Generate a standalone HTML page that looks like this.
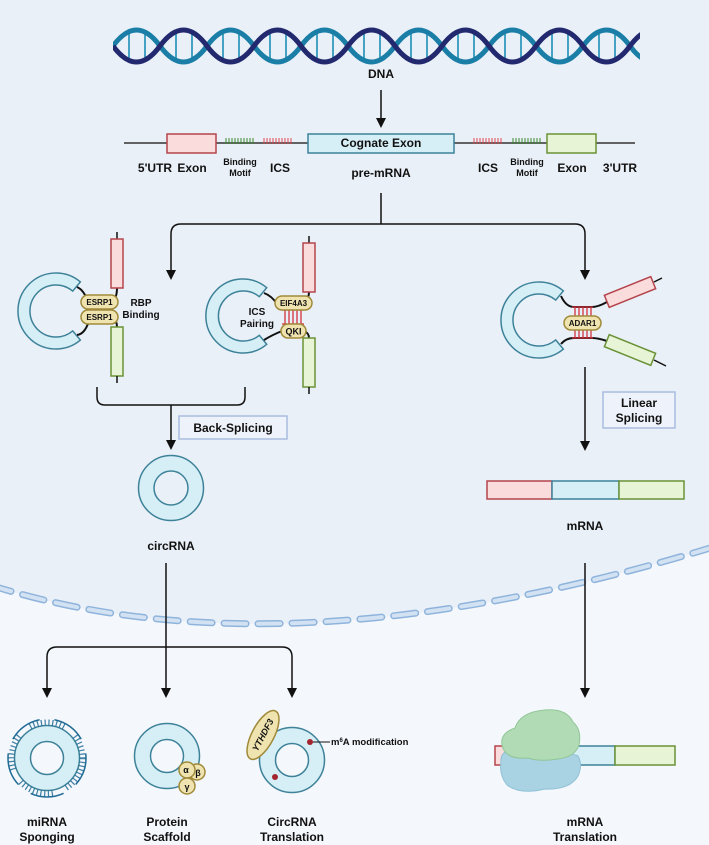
<!DOCTYPE html>
<html><head><meta charset="utf-8"><style>
html,body{margin:0;padding:0;background:#f4f7fb;}
svg{display:block;}
text{font-family:"Liberation Sans Narrow","Liberation Sans",sans-serif;font-weight:bold;fill:#111;}
</style></head><body>
<svg width="709" height="845" viewBox="0 0 709 845" xmlns="http://www.w3.org/2000/svg">
<rect width="709" height="845" fill="#f4f7fb"/>
<!-- nucleus -->
<path d="M-10,0 L720,0 L720,545 Q285,679 -10,585 Z" fill="#eaf0f8"/>
<path d="M-10,585 Q285,679 720,545" fill="none" stroke="#8fb4dc" stroke-width="7" stroke-dasharray="22,12" stroke-linecap="round"/>
<path d="M-10,585 Q285,679 720,545" fill="none" stroke="#d2e2f3" stroke-width="4" stroke-dasharray="22,12" stroke-linecap="round"/>

<!-- DNA -->
<g stroke-width="1.6">
<g stroke="#1d8fb5">
<line x1="129" y1="34" x2="129" y2="58"/><line x1="145" y1="34" x2="145" y2="58"/><line x1="176" y1="34" x2="176" y2="58"/><line x1="192" y1="34" x2="192" y2="58"/>
<line x1="223" y1="34" x2="223" y2="58"/><line x1="239" y1="34" x2="239" y2="58"/><line x1="270" y1="34" x2="270" y2="58"/><line x1="286" y1="34" x2="286" y2="58"/>
<line x1="317" y1="34" x2="317" y2="58"/><line x1="333" y1="34" x2="333" y2="58"/><line x1="364" y1="34" x2="364" y2="58"/><line x1="380" y1="34" x2="380" y2="58"/>
<line x1="411" y1="34" x2="411" y2="58"/><line x1="427" y1="34" x2="427" y2="58"/><line x1="458" y1="34" x2="458" y2="58"/><line x1="474" y1="34" x2="474" y2="58"/>
<line x1="505" y1="34" x2="505" y2="58"/><line x1="521" y1="34" x2="521" y2="58"/><line x1="552" y1="34" x2="552" y2="58"/><line x1="568" y1="34" x2="568" y2="58"/>
<line x1="599" y1="34" x2="599" y2="58"/><line x1="615" y1="34" x2="615" y2="58"/>
</g>
</g>
<path d="M113,46 q23.5,-32 47,0 t47,0 t47,0 t47,0 t47,0 t47,0 t47,0 t47,0 t47,0 t47,0 t47,0 t47,0" fill="none" stroke="#1a7ea6" stroke-width="5"/>
<path d="M113,46 q23.5,32 47,0 t47,0 t47,0 t47,0 t47,0 t47,0 t47,0 t47,0 t47,0 t47,0 t47,0 t47,0" fill="none" stroke="#22296e" stroke-width="5"/>
<rect x="640" y="20" width="69" height="50" fill="#eaf0f8"/>
<rect x="100" y="20" width="13" height="50" fill="#eaf0f8"/>
<text x="381" y="78" font-size="12" text-anchor="middle">DNA</text>
<line x1="381" y1="90" x2="381" y2="120" stroke="#111" stroke-width="1.5"/>
<path d="M376,118 h10 l-5,10z" fill="#111"/>

<!-- pre-mRNA -->
<line x1="124" y1="143" x2="635" y2="143" stroke="#333" stroke-width="1.5"/>
<rect x="167" y="134" width="49" height="19" fill="#fbdcdc" stroke="#b5454d" stroke-width="1.5"/>
<rect x="308" y="134" width="146" height="19" fill="#d6eef5" stroke="#3d8299" stroke-width="1.5"/>
<rect x="547" y="134" width="49" height="19" fill="#e8f4d6" stroke="#6a9237" stroke-width="1.5"/>
<g stroke="#3a8a2e" stroke-width="1"><path d="M226,144v-6M229,144v-6M232,144v-6M235,144v-6M238,144v-6M241,144v-6M244,144v-6M247,144v-6M250,144v-6M253,144v-6"/><path d="M513,144v-6M516,144v-6M519,144v-6M522,144v-6M525,144v-6M528,144v-6M531,144v-6M534,144v-6M537,144v-6M540,144v-6"/></g>
<g stroke="#e0474f" stroke-width="1"><path d="M264,144v-6M267,144v-6M270,144v-6M273,144v-6M276,144v-6M279,144v-6M282,144v-6M285,144v-6M288,144v-6M291,144v-6"/><path d="M474,144v-6M477,144v-6M480,144v-6M483,144v-6M486,144v-6M489,144v-6M492,144v-6M495,144v-6M498,144v-6M501,144v-6"/></g>
<text x="381" y="147" font-size="12" text-anchor="middle">Cognate Exon</text>
<g font-size="12" text-anchor="middle">
<text x="155" y="172">5'UTR</text><text x="192" y="172">Exon</text><text x="280" y="172">ICS</text>
<text x="381" y="177">pre-mRNA</text>
<text x="488" y="172">ICS</text><text x="572" y="172">Exon</text><text x="620" y="172">3'UTR</text>
</g>
<g font-size="9" text-anchor="middle"><text x="240" y="165">Binding</text><text x="240" y="176">Motif</text><text x="527" y="165">Binding</text><text x="527" y="176">Motif</text></g>

<!-- branch -->
<path d="M381,193 V224 M181,224 H575 M171,272 V234 Q171,224 181,224 M575,224 Q585,224 585,234 V272" fill="none" stroke="#111" stroke-width="1.5"/>
<path d="M166,270 h10 l-5,10z M580,270 h10 l-5,10z" fill="#111"/>

<!-- left group -->
<path d="M80.4,281.9 A38,38 0 1 0 80.4,340.1 L72.7,330.9 A26,26 0 1 1 72.7,291.1 Z" fill="#d6eef5" stroke="#3d8299" stroke-width="1.5"/>
<path d="M77,287 Q84,290 88,302 M77,335 Q86,334 90,317 M117,288 Q117,298 112,302 M117,327 Q117,320 112,317" fill="none" stroke="#111" stroke-width="2"/>
<line x1="117" y1="232" x2="117" y2="239" stroke="#111" stroke-width="1.5"/>
<rect x="111" y="239" width="12" height="49" fill="#fbdcdc" stroke="#b5454d" stroke-width="1.5"/>
<rect x="111" y="327" width="12" height="49" fill="#e8f4d6" stroke="#6a9237" stroke-width="1.5"/>
<line x1="117" y1="376" x2="117" y2="383" stroke="#111" stroke-width="1.5"/>
<rect x="81" y="295" width="37" height="14" rx="7" fill="#efe4b0" stroke="#a08a3a" stroke-width="1.5"/>
<rect x="81" y="310" width="37" height="14" rx="7" fill="#efe4b0" stroke="#a08a3a" stroke-width="1.5"/>
<g font-size="8" text-anchor="middle"><text x="99.5" y="305">ESRP1</text><text x="99.5" y="320">ESRP1</text></g>
<g font-size="10" text-anchor="middle"><text x="141" y="306">RBP</text><text x="141" y="318">Binding</text></g>

<!-- middle group -->
<path d="M266.7,287.7 A37,37 0 1 0 266.7,344.3 L259.3,335.3 A25,25 0 1 1 259.3,296.7 Z" fill="#d6eef5" stroke="#3d8299" stroke-width="1.5"/>
<path d="M264,293 Q272,296 277,304 M264,340 Q272,335 282,331 M309,292 Q309,298 305,302 M309,338 Q309,333 304,331" fill="none" stroke="#111" stroke-width="2"/>
<g stroke="#d2323c" stroke-width="1.3"><path d="M282,310 H304 M282,324 H304 M285,310v14M289,310v14M293,310v14M297,310v14M301,310v14"/></g>
<line x1="309" y1="236" x2="309" y2="243" stroke="#111" stroke-width="1.5"/>
<rect x="303" y="243" width="12" height="49" fill="#fbdcdc" stroke="#b5454d" stroke-width="1.5"/>
<rect x="303" y="338" width="12" height="49" fill="#e8f4d6" stroke="#6a9237" stroke-width="1.5"/>
<line x1="309" y1="387" x2="309" y2="394" stroke="#111" stroke-width="1.5"/>
<rect x="275" y="296" width="37" height="14" rx="7" fill="#efe4b0" stroke="#a08a3a" stroke-width="1.5"/>
<rect x="281" y="324" width="25" height="14" rx="7" fill="#efe4b0" stroke="#a08a3a" stroke-width="1.5"/>
<g font-size="8" text-anchor="middle"><text x="293.5" y="306">EIF4A3</text><text x="293.5" y="334.5" font-size="9">QKI</text></g>
<g font-size="10" text-anchor="middle"><text x="257" y="315">ICS</text><text x="257" y="327">Pairing</text></g>

<!-- right group -->
<path d="M563.4,290.9 A38,38 0 1 0 563.4,349.1 L555.7,339.9 A26,26 0 1 1 555.7,300.1 Z" fill="#d6eef5" stroke="#3d8299" stroke-width="1.5"/>
<path d="M561,296 Q566,307 574,307 H592 Q598,307 607,302 M561,344 Q566,338 574,338 H592 Q598,338 607,341" fill="none" stroke="#111" stroke-width="2"/>
<g stroke="#d2323c" stroke-width="1.3"><path d="M572,307 H593 M572,338 H593 M575,307v9M579,307v9M583,307v9M587,307v9M591,307v9M575,330v8M579,330v8M583,330v8M587,330v8M591,330v8"/></g>
<rect x="564" y="316" width="37" height="14" rx="7" fill="#efe4b0" stroke="#a08a3a" stroke-width="1.5"/>
<text x="582.5" y="326" font-size="8" text-anchor="middle">ADAR1</text>
<rect x="605" y="285.5" width="50" height="13" fill="#fbdcdc" stroke="#b5454d" stroke-width="1.5" transform="rotate(-22 630 292)"/>
<rect x="605" y="343.5" width="50" height="13" fill="#e8f4d6" stroke="#6a9237" stroke-width="1.5" transform="rotate(22 630 350)"/>
<path d="M654,282 L662,278 M654,360 L666,366" stroke="#111" stroke-width="1.5"/>

<!-- back splicing -->
<path d="M97,387 V397 Q97,405 105,405 H237 Q245,405 245,397 V387" fill="none" stroke="#111" stroke-width="1.5"/>
<line x1="171" y1="405" x2="171" y2="442" stroke="#111" stroke-width="1.5"/>
<path d="M166,440 h10 l-5,10z" fill="#111"/>
<rect x="179" y="416" width="108" height="23" fill="#eef2fa" stroke="#a9bde0" stroke-width="1.5"/>
<text x="233" y="432" font-size="12" text-anchor="middle">Back-Splicing</text>
<circle cx="171" cy="488" r="25" fill="none" stroke="#d6eef5" stroke-width="15"/>
<circle cx="171" cy="488" r="32.5" fill="none" stroke="#3d8299" stroke-width="1.5"/>
<circle cx="171" cy="488" r="17" fill="none" stroke="#3d8299" stroke-width="1.5"/>
<text x="171" y="550" font-size="12" text-anchor="middle">circRNA</text>

<!-- linear splicing -->
<line x1="585" y1="367" x2="585" y2="443" stroke="#111" stroke-width="1.5"/>
<path d="M580,441 h10 l-5,10z" fill="#111"/>
<rect x="603" y="392" width="72" height="36" fill="#eef2fa" stroke="#a9bde0" stroke-width="1.5"/>
<g font-size="12" text-anchor="middle"><text x="639" y="407">Linear</text><text x="639" y="422">Splicing</text></g>
<rect x="487" y="481" width="65" height="18" fill="#fbdcdc" stroke="#b5454d" stroke-width="1.5"/>
<rect x="552" y="481" width="67" height="18" fill="#d6eef5" stroke="#3d8299" stroke-width="1.5"/>
<rect x="619" y="481" width="65" height="18" fill="#e8f4d6" stroke="#6a9237" stroke-width="1.5"/>
<text x="585" y="530" font-size="12" text-anchor="middle">mRNA</text>

<!-- lower branches -->
<path d="M166,563 V690 M57,647 H282 M47,690 V657 Q47,647 57,647 M282,647 Q292,647 292,657 V690" fill="none" stroke="#111" stroke-width="1.5"/>
<path d="M42,688 h10 l-5,10z M161,688 h10 l-5,10z M287,688 h10 l-5,10z" fill="#111"/>
<line x1="585" y1="563" x2="585" y2="690" stroke="#111" stroke-width="1.5"/>
<path d="M580,688 h10 l-5,10z" fill="#111"/>

<!-- miRNA sponging -->
<circle cx="47" cy="758" r="24.5" fill="none" stroke="#d6eef5" stroke-width="16"/>
<circle cx="47" cy="758" r="32.5" fill="none" stroke="#3d8299" stroke-width="1.5"/>
<circle cx="47" cy="758" r="16.5" fill="none" stroke="#3d8299" stroke-width="1.5"/>
<g fill="none" stroke="#1f6b95" stroke-width="1.5">
<circle cx="47" cy="758" r="39" stroke-dasharray="34,15" stroke-dashoffset="5"/>
</g>
<g fill="none" stroke="#1f6b95" stroke-width="6">
<circle cx="47" cy="758" r="35.5" stroke-dasharray="1.2,2.6,1.2,2.6,1.2,2.6,1.2,2.6,1.2,2.6,1.2,2.6,1.2,2.6,1.2,2.6,1.2,2.6,1.2,14.4" stroke-dashoffset="0" opacity="0.85"/>
</g>
<!-- protein scaffold -->
<circle cx="167" cy="756" r="24.5" fill="none" stroke="#d6eef5" stroke-width="16"/>
<circle cx="167" cy="756" r="32.5" fill="none" stroke="#3d8299" stroke-width="1.5"/>
<circle cx="167" cy="756" r="16.5" fill="none" stroke="#3d8299" stroke-width="1.5"/>
<circle cx="197" cy="772" r="8" fill="#efe4b0" stroke="#a08a3a" stroke-width="1.5"/>
<circle cx="187" cy="770" r="8" fill="#efe4b0" stroke="#a08a3a" stroke-width="1.5"/>
<circle cx="187" cy="786" r="8" fill="#efe4b0" stroke="#a08a3a" stroke-width="1.5"/>
<g font-size="9" text-anchor="middle" style="font-weight:normal"><text x="186" y="773">α</text><text x="198" y="776">β</text><text x="187" y="790">γ</text></g>
<!-- circRNA translation -->
<circle cx="292" cy="760" r="24.5" fill="none" stroke="#d6eef5" stroke-width="16"/>
<circle cx="292" cy="760" r="32.5" fill="none" stroke="#3d8299" stroke-width="1.5"/>
<circle cx="292" cy="760" r="16.5" fill="none" stroke="#3d8299" stroke-width="1.5"/>
<ellipse cx="263" cy="735" rx="27" ry="11" fill="#efe4b0" stroke="#a08a3a" stroke-width="1.5" transform="rotate(-62 263 735)"/>
<text x="263" y="738" font-size="9" text-anchor="middle" transform="rotate(-62 263 735)" font-style="italic">YTHDF3</text>
<circle cx="310" cy="742" r="3" fill="#a3262f"/>
<circle cx="275" cy="777" r="3" fill="#a3262f"/>
<line x1="313" y1="742" x2="330" y2="742" stroke="#111" stroke-width="1"/>
<text x="331" y="745" font-size="9.5">m<tspan font-size="6" dy="-3">6</tspan><tspan dy="3">A modification</tspan></text>

<!-- mRNA translation -->
<rect x="497" y="707" width="87" height="86" fill="#f4f8fd"/>
<rect x="495" y="746" width="60" height="19" fill="#fbdcdc" stroke="#b5454d" stroke-width="1.5"/>
<rect x="555" y="746" width="60" height="19" fill="#d6eef5" stroke="#3d8299" stroke-width="1.5"/>
<rect x="615" y="746" width="60" height="19" fill="#e8f4d6" stroke="#6a9237" stroke-width="1.5"/>
<path d="M501,762 Q500,752 511,750 Q540,753 556,757 Q570,752 578,756 Q583,765 578,776 Q570,790 545,789 Q520,795 507,785 Q499,775 501,762 Z" fill="#a9d3e3" stroke="#8fc1d6" stroke-width="1"/>
<path d="M502,745 Q500,733 515,728 Q520,712 545,710 Q566,708 573,722 Q582,730 579,745 Q575,757 558,759 Q540,762 528,758 Q505,760 502,745 Z" fill="#b0dbb4" stroke="#92c698" stroke-width="1"/>

<!-- bottom labels -->
<g font-size="12" text-anchor="middle">
<text x="47" y="826">miRNA</text><text x="47" y="841">Sponging</text>
<text x="167" y="826">Protein</text><text x="167" y="841">Scaffold</text>
<text x="292" y="826">CircRNA</text><text x="292" y="841">Translation</text>
<text x="585" y="826">mRNA</text><text x="585" y="841">Translation</text>
</g>
</svg>
</body></html>
